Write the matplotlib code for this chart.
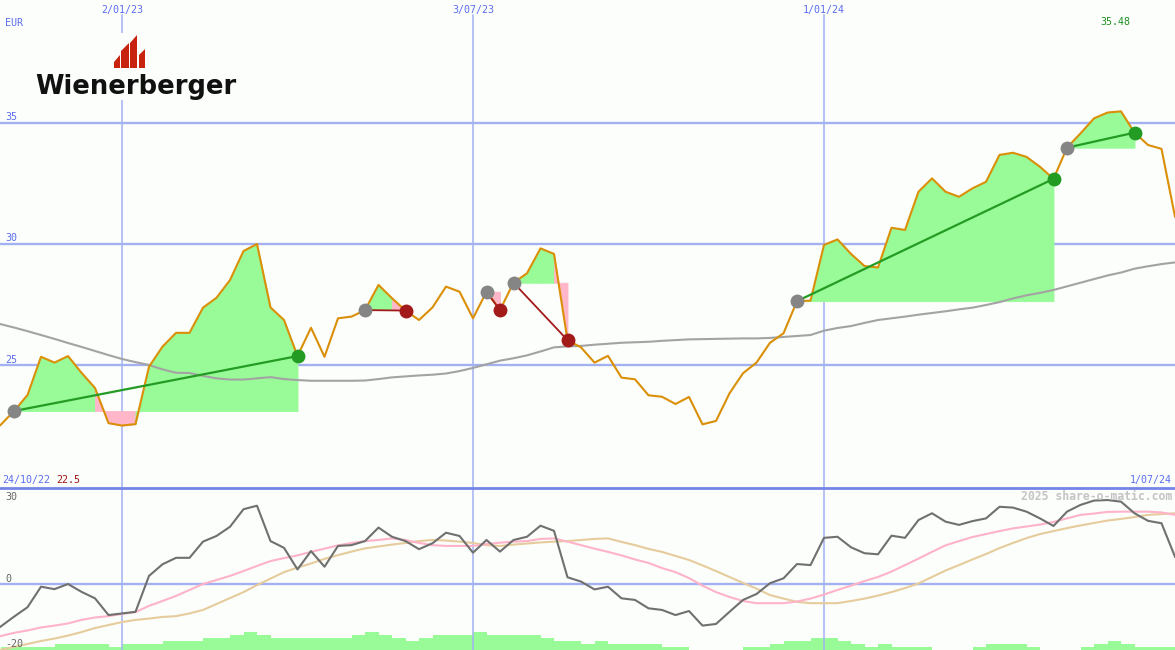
import matplotlib
matplotlib.use("Agg")
import matplotlib.pyplot as plt
import matplotlib.dates as mdates
from matplotlib.patches import Polygon, Rectangle
from matplotlib.lines import Line2D
import pandas as pd

# ---------------- data ----------------
weeks = pd.date_range("2022-10-31", "2024-07-01", freq="7D")

price = [22.52, 23.10, 23.76, 25.34, 25.10, 25.37, 24.68, 24.05, 22.60, 22.50,
         22.56, 24.93, 25.76, 26.33, 26.33, 27.37, 27.78, 28.51, 29.71, 30.00,
         27.38, 26.86, 25.37, 26.54, 25.34, 26.93, 27.00, 27.27, 28.31, 27.76,
         27.25, 26.86, 27.38, 28.24, 28.03, 26.93, 28.03, 27.27, 28.40, 28.79,
         29.82, 29.59, 26.03, 25.73, 25.10, 25.38, 24.48, 24.41, 23.75, 23.69,
         23.39, 23.68, 22.55, 22.69, 23.83, 24.66, 25.10, 25.92, 26.31, 27.64,
         27.66, 29.96, 30.19, 29.59, 29.09, 29.03, 30.67, 30.58, 32.16, 32.71,
         32.16, 31.95, 32.30, 32.57, 33.68, 33.77, 33.60, 33.19, 32.69, 33.98,
         34.57, 35.19, 35.43, 35.48, 34.60, 34.09, 33.93, 31.13]

ma_slow = [26.69, 26.55, 26.40, 26.24, 26.08, 25.91, 25.75, 25.58, 25.41, 25.25,
           25.12, 25.00, 24.82, 24.68, 24.67, 24.55, 24.45, 24.40, 24.40, 24.45,
           24.50, 24.42, 24.38, 24.35, 24.35, 24.35, 24.35, 24.36, 24.42, 24.49,
           24.53, 24.57, 24.60, 24.65, 24.75, 24.88, 25.03, 25.18, 25.28, 25.40,
           25.56, 25.73, 25.77, 25.79, 25.84, 25.88, 25.92, 25.94, 25.96, 26.00,
           26.03, 26.06, 26.07, 26.08, 26.09, 26.10, 26.10, 26.12, 26.16, 26.20,
           26.24, 26.42, 26.53, 26.61, 26.74, 26.86, 26.93, 27.00, 27.08, 27.15,
           27.22, 27.30, 27.37, 27.48, 27.60, 27.75, 27.88, 27.98, 28.10, 28.25,
           28.40, 28.55, 28.70, 28.82, 28.98, 29.08, 29.17, 29.24]

osc = [-15.8, -12.1, -8.6, -1.0, -1.9, 0.0, -2.9, -5.3, -11.5, -10.9,
       -10.3, 3.0, 7.3, 9.7, 9.7, 15.7, 17.8, 21.2, 27.7, 29.0,
       15.9, 13.4, 5.4, 12.2, 6.4, 14.1, 14.4, 15.9, 20.9, 17.5,
       15.9, 12.9, 15.1, 19.0, 17.8, 11.6, 16.3, 12.0, 16.3, 17.5,
       21.6, 19.7, 2.5, 0.9, -2.0, -1.0, -5.3, -5.9, -9.0, -9.6,
       -11.5, -10.0, -15.4, -14.8, -10.3, -5.9, -3.7, 0.3, 2.1, 7.4,
       7.0, 17.1, 17.5, 13.6, 11.4, 11.0, 17.9, 17.1, 23.7, 26.2,
       23.1, 21.9, 23.3, 24.3, 28.6, 28.3, 26.8, 24.3, 21.5, 26.8,
       29.3, 30.9, 31.1, 30.5, 26.2, 23.4, 22.5, 10.1]

osc_fast = [-19.3, -18.1, -17.2, -16.1, -15.4, -14.6, -13.3, -12.4, -11.9, -11.1,
            -10.4, -8.1, -6.3, -4.4, -2.2, 0.0, 1.5, 3.0, 4.8, 6.7,
            8.5, 9.6, 10.6, 11.9, 13.1, 14.3, 15.2, 15.9, 16.3, 16.9,
            16.3, 15.2, 14.4, 14.1, 14.1, 14.1, 14.8, 15.3, 15.7, 15.9,
            16.7, 16.9, 15.7, 14.4, 13.1, 11.9, 10.6, 9.1, 7.8, 5.9,
            4.4, 2.2, -0.6, -3.0, -4.8, -6.3, -7.1, -7.1, -7.1, -6.5,
            -5.4, -3.9, -2.2, -0.6, 1.1, 2.6, 4.6, 7.0, 9.4, 11.9,
            14.3, 15.9, 17.4, 18.5, 19.6, 20.6, 21.3, 22.0, 23.0, 24.3,
            25.6, 26.1, 26.7, 26.8, 26.8, 26.8, 26.5, 25.6]

osc_slow = [-24.4, -23.3, -22.2, -21.1, -20.2, -19.1, -17.8, -16.3, -15.2, -14.1,
            -13.3, -12.8, -12.2, -11.9, -10.9, -9.6, -7.4, -5.2, -3.0, -0.4,
            2.0, 4.4, 6.1, 7.6, 9.3, 10.7, 12.0, 13.2, 13.9, 14.6,
            15.2, 15.9, 16.3, 16.1, 15.7, 15.2, 14.4, 14.1, 14.6, 15.0,
            15.4, 15.7, 15.9, 16.3, 16.7, 16.9, 15.6, 14.4, 13.0, 11.9,
            10.4, 8.9, 6.9, 4.8, 2.6, 0.4, -1.7, -4.1, -5.4, -6.6,
            -7.1, -7.1, -7.1, -6.3, -5.4, -4.3, -3.0, -1.5, 0.2, 2.6,
            5.0, 7.0, 9.1, 11.1, 13.3, 15.2, 17.0, 18.5, 19.6, 20.7,
            21.7, 22.6, 23.5, 24.1, 24.8, 25.6, 25.9, 26.2]

volume_level = [1, 1, 1, 1, 2, 2, 2, 2, 1, 2, 2, 2, 3, 3, 3, 4, 4, 5, 6, 5,
                4, 4, 4, 4, 4, 4, 5, 6, 5, 4, 3, 4, 5, 5, 5, 6, 5, 5, 5, 5,
                4, 3, 3, 2, 3, 2, 2, 2, 2, 1, 1, 0, 0, 0, 0, 1, 1, 2, 3, 3,
                4, 4, 3, 2, 1, 2, 1, 1, 1, 0, 0, 0, 1, 2, 2, 2, 1, 0, 0, 0,
                1, 2, 3, 2, 1, 1, 1]

buy_idx = [1, 27, 36, 38, 59, 79]
sell_idx = [22, 30, 37, 42, 78, 84]

grid_prices = [25, 30, 35]
tick_dates = pd.to_datetime(["2023-01-02", "2023-07-03", "2024-01-01"])
tick_labels = ["2/01/23", "3/07/23", "1/01/24"]
start_label = "24/10/22"
end_label = "1/07/24"
currency = "EUR"
osc_ticks = [30, 0, -20]
company = "Wienerberger"
watermark = "2025 share-o-matic.com"

# ---------------- style ----------------
W, H = 1175, 650
SPLIT = 488
BG = "#fbfefb"
GRID = "#a3b1f2"
SEP = "#7585e6"
BLUE_TXT = "#5b6cf0"
ORANGE = "#da8f06"
MA_GREY = "#a3a3a3"
FILL_G = "#98fb98"
FILL_P = "#ffb6c8"
WIN = "#249c24"
LOSS = "#a31a1a"
BUY = "#858585"
MONO = "DejaVu Sans Mono"
FS = 7.2

fig = plt.figure(figsize=(W / 100, H / 100), dpi=100)
fig.patch.set_facecolor(BG)
ax = fig.add_axes([0, (H - SPLIT) / H, 1, SPLIT / H])
ax2 = fig.add_axes([0, 0, 1, (H - SPLIT) / H])
for a in (ax, ax2):
    a.axis("off")

xnum = mdates.date2num(weeks)
x0, x1 = xnum[0] - 0.26, xnum[-1]
ax.set_xlim(x0, x1)
ax2.set_xlim(x0, x1)
ax.set_ylim(19.92, 40.08)
ax2.set_ylim(-24.44, 35.56)


def fpix(x, y):
    return x / W, 1 - y / H


# ---------------- main panel ----------------
for p in grid_prices:
    ax.axhline(p, color=GRID, lw=1.7, zorder=0)
    ax.annotate(str(p), xy=(0, p), xycoords=("axes fraction", "data"),
                xytext=(5, 2.5), textcoords="offset pixels", va="baseline",
                ha="left", fontsize=FS, family=MONO, color=BLUE_TXT)
for d, lab in zip(tick_dates, tick_labels):
    ax.axvline(d, ymin=0, ymax=1 - 15 / SPLIT, color=GRID, lw=1.1, zorder=0)
    ax2.axvline(d, color=GRID, lw=1.1, zorder=0)
    ax.annotate(lab, xy=(mdates.date2num(d), 1), xycoords=("data", "axes fraction"),
                xytext=(0, -12.5), textcoords="offset pixels", va="baseline",
                ha="center", fontsize=FS, family=MONO, color=BLUE_TXT)

# trade shading, segment by segment
for b, s in zip(buy_idx, sell_idx):
    base = price[b]
    for k in range(b, s):
        col = FILL_G if price[k + 1] > base else FILL_P
        ax.fill_between(weeks[k:k + 2], price[k:k + 2], base, facecolor=col,
                        edgecolor=col, lw=0.6, zorder=1)

ax.plot(weeks, ma_slow, color=MA_GREY, lw=1.5, zorder=2)
ax.plot(weeks, price, color=ORANGE, lw=1.5, zorder=3)

for b, s in zip(buy_idx, sell_idx):
    col = WIN if price[s] > price[b] else LOSS
    ax.plot([weeks[b], weeks[s]], [price[b], price[s]], color=col,
            lw=1.6 if col == WIN else 1.3, zorder=4)
    ax.plot(weeks[b], price[b], "o", color=BUY, ms=10, mec="none", zorder=5)
    ax.plot(weeks[s], price[s], "o", color=col, ms=10, mec="none", zorder=5)

# min / max annotations
imax = max(range(len(price)), key=lambda i: price[i])
ax.annotate(f"{max(price):.2f}", xy=(mdates.date2num(weeks[imax]), 1),
            xycoords=("data", "axes fraction"), xytext=(-6, -25),
            textcoords="offset pixels", ha="center", va="baseline",
            fontsize=FS, family=MONO, color="#1f8f1f")
fig.text(*fpix(5, 26), currency, fontsize=FS, family=MONO, color=BLUE_TXT,
         va="baseline", ha="left")
fig.text(*fpix(2, 483), start_label, fontsize=FS, family=MONO, color=BLUE_TXT,
         va="baseline", ha="left")
fig.text(*fpix(56, 483), f"{min(price):.1f}", fontsize=FS, family=MONO,
         color="#a01414", va="baseline", ha="left")
fig.text(*fpix(1172, 483), end_label, fontsize=FS, family=MONO, color=BLUE_TXT,
         va="baseline", ha="right")

# logo
fig.add_artist(Rectangle(fpix(35, 100), 201 / W, 67 / H, transform=fig.transFigure,
                         facecolor=BG, edgecolor="none", zorder=6))
bars = [(114, 120, 62, 55), (121, 129, 51, 43), (130, 137, 43, 35), (139, 145, 55, 49)]
for xl, xr, tl, tr in bars:
    pts = [fpix(xl, 68), fpix(xr, 68), fpix(xr, tr), fpix(xl, tl)]
    fig.add_artist(Polygon(pts, closed=True, transform=fig.transFigure,
                           facecolor="#c8230f", edgecolor="none", zorder=7))
fig.text(*fpix(35, 94), company, fontsize=18.6, family="DejaVu Sans",
         fontweight="bold", color="#111111", va="baseline", ha="left", zorder=8)

# ---------------- lower panel ----------------
fig.add_artist(Line2D([0, 1], [(H - SPLIT) / H] * 2, transform=fig.transFigure,
                      color=SEP, lw=2.0, zorder=3))
ax2.axhline(0, color=GRID, lw=1.7, zorder=0)
axv = ax2.twinx()
axv.axis("off")
axv.set_ylim(0, 53)
axv.bar(weeks[:-1], volume_level, width=7, align="edge", color=FILL_G,
        lw=0, zorder=1)
ax2.set_zorder(axv.get_zorder() + 1)
ax2.patch.set_visible(False)
ax2.plot(weeks, osc_slow, color="#e6cc9c", lw=1.5, zorder=2)
ax2.plot(weeks, osc_fast, color="#ffb3c9", lw=1.5, zorder=3)
ax2.plot(weeks, osc, color="#707070", lw=1.5, zorder=4)

osc_label_y = {30: 500, 0: 582, -20: 647}
for t in osc_ticks:
    fig.text(*fpix(5, osc_label_y[t]), str(t), fontsize=FS, family=MONO,
             color="#666666", va="baseline", ha="left")
fig.text(*fpix(1172, 500), watermark, fontsize=8.3, family=MONO,
         fontweight="bold", color="#c4c4c4", va="baseline", ha="right")

fig.savefig("out.png", dpi=100, facecolor=BG)
